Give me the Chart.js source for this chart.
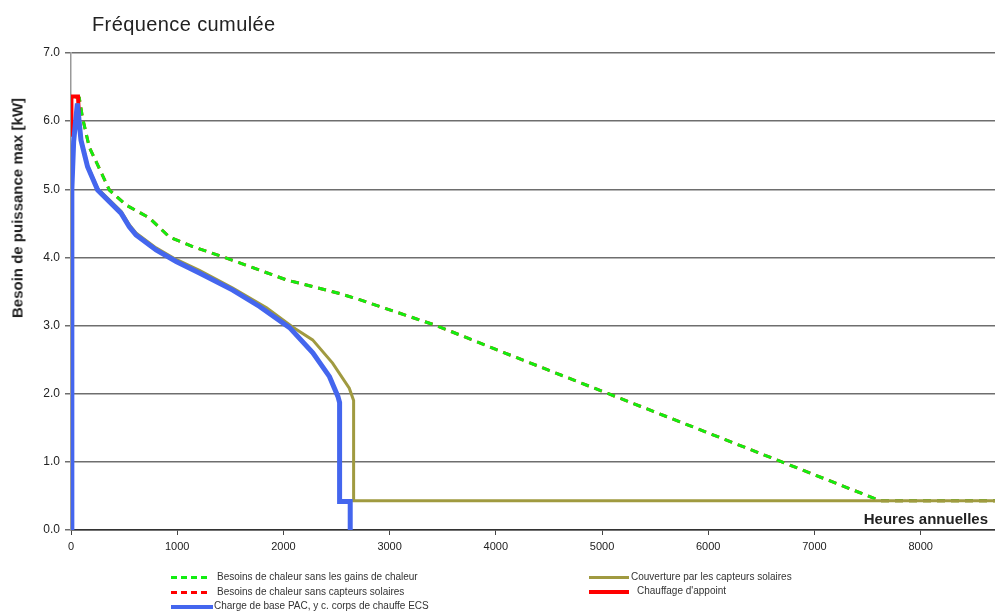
<!DOCTYPE html>
<html>
<head>
<meta charset="utf-8">
<script src="https://cdn.jsdelivr.net/npm/chart.js@4/dist/chart.umd.min.js"></script>
<style>
  body { margin: 0; background: #fff; font-family: "Liberation Sans", Arial, sans-serif; }
  #wrap { position: relative; width: 995px; height: 613px; }
  .txt { position: absolute; white-space: nowrap; color: #222; }
  #title { left: 92px; top: 13px; font-size: 20px; letter-spacing: 0.4px; }
  #ytitle { left: 17px; top: 208px; font-size: 15px; font-weight: bold; transform: translate(-50%, -50%) rotate(-90deg); }
  #xtitle { right: 7px; top: 510px; font-size: 15px; font-weight: bold; }
  .leg { position: absolute; font-size: 10px; color: #333; white-space: nowrap; }
  .sw { position: absolute; height: 0; }
</style>
</head>
<body>
<div id="wrap">
  <canvas id="chart"></canvas>
  <div class="txt" id="title">Fréquence cumulée</div>
  <div class="txt" id="ytitle">Besoin de puissance max [kW]</div>
  <div class="txt" id="xtitle">Heures annuelles</div>

  <div class="sw" style="left:171px;top:576px;width:36px;border-top:3px dashed #11ee11"></div>
  <div class="leg" style="left:217px;top:571px">Besoins de chaleur sans les gains de chaleur</div>
  <div class="sw" style="left:171px;top:591px;width:36px;border-top:3px dashed #ff0000"></div>
  <div class="leg" style="left:217px;top:586px">Besoins de chaleur sans capteurs solaires</div>
  <div class="sw" style="left:171px;top:605px;width:42px;border-top:4px solid #4466ee"></div>
  <div class="leg" style="left:214px;top:600px">Charge de base PAC, y c. corps de chauffe ECS</div>

  <div class="sw" style="left:589px;top:576px;width:40px;border-top:3px solid #a09a40"></div>
  <div class="leg" style="left:631px;top:571px">Couverture par les capteurs solaires</div>
  <div class="sw" style="left:589px;top:590px;width:40px;border-top:4px solid #ff0000"></div>
  <div class="leg" style="left:637px;top:585px">Chauffage d'appoint</div>
</div>
<script>
// x: heures annuelles, y: kW
const greenHours = [40, 78, 107, 172, 361, 518, 738, 926, 1146, 1446, 2029, 2529, 2717, 3440, 4000, 5060, 6692, 7618, 8700];
const greenKw    = [6.36, 6.34, 6.06, 5.62, 4.99, 4.77, 4.58, 4.30, 4.16, 4.00, 3.67, 3.47, 3.38, 3.00, 2.65, 2.00, 1.00, 0.43, 0.43];

// hidden under the green curve in the picture
const redDashHours = [40, 78, 107, 172, 361, 518, 738, 926, 1146, 1446, 2029, 2529, 2717, 3440, 4000, 5060, 6692, 7618, 8700];
const redDashKw    = [6.36, 6.34, 6.06, 5.62, 4.99, 4.77, 4.58, 4.30, 4.16, 4.00, 3.67, 3.47, 3.38, 3.00, 2.65, 2.00, 1.00, 0.43, 0.43];

const blueHours = [0, 8, 25, 60, 94, 156, 251, 471, 549, 612, 801, 990, 1209, 1523, 1775, 2058, 2277, 2434, 2513, 2529, 2529, 2629, 2629];
const blueKw    = [0, 5.0, 5.7, 6.26, 5.72, 5.33, 4.99, 4.65, 4.45, 4.33, 4.11, 3.94, 3.77, 3.52, 3.28, 2.97, 2.60, 2.25, 1.96, 1.87, 0.42, 0.42, 0];

const oliveHours = [0, 8, 25, 60, 94, 156, 251, 471, 549, 612, 801, 990, 1209, 1523, 1841, 2086, 2275, 2463, 2620, 2661, 2661, 8700];
const oliveKw    = [0, 5.0, 5.7, 6.26, 5.74, 5.35, 5.01, 4.68, 4.48, 4.36, 4.14, 3.97, 3.81, 3.55, 3.26, 2.98, 2.79, 2.45, 2.08, 1.90, 0.43, 0.43];

const redHours = [0, 4, 66, 76];
const redKw    = [5.8, 6.36, 6.36, 6.05];

const xTicks = [0, 1000, 2000, 3000, 4000, 5000, 6000, 7000, 8000];
const yTicks = [0, 1, 2, 3, 4, 5, 6, 7];

function pts(xs, ys) {
  return xs.map((x, i) => ({ x: x, y: ys[i] }));
}

const ctx = document.getElementById('chart').getContext('2d');
new Chart(ctx, {
  type: 'scatter',
  data: {
    datasets: [
      { label: 'Charge de base PAC, y c. corps de chauffe ECS', data: pts(blueHours, blueKw),
        borderColor: '#4466ee', borderWidth: 5 },
      { label: 'Couverture par les capteurs solaires', data: pts(oliveHours, oliveKw),
        borderColor: '#a09a40', borderWidth: 3 },
      { label: "Chauffage d'appoint", data: pts(redHours, redKw),
        borderColor: '#ff0000', borderWidth: 4 },
      { label: 'Besoins de chaleur sans les gains de chaleur', data: pts(greenHours, greenKw),
        borderColor: '#11ee11', borderWidth: 3, borderDash: [8, 6] },
      { label: 'Besoins de chaleur sans capteurs solaires', data: pts(redDashHours, redDashKw),
        borderColor: '#ff0000', borderWidth: 3, borderDash: [8, 6] }
    ].map(d => Object.assign(d, { showLine: true, pointRadius: 0, tension: 0, fill: false }))
  },
  options: {
    responsive: true,
    maintainAspectRatio: false,
    animation: false,
    layout: { padding: { top: 53, right: 0, left: 0, bottom: 0 } },
    plugins: { legend: { display: false }, tooltip: { enabled: false } },
    scales: {
      x: {
        type: 'linear', min: 0, max: 8700,
        afterFit: s => { s.height = 83; },
        afterBuildTicks: s => { s.ticks = xTicks.map(v => ({ value: v })); },
        ticks: { font: { family: 'Liberation Sans', size: 11 }, color: '#222', padding: 5, maxRotation: 0,
                 callback: v => String(v) },
        grid: { drawOnChartArea: false, tickLength: 5, color: '#444' },
        border: { color: '#333', width: 1.5 }
      },
      y: {
        min: 0, max: 7,
        afterFit: s => { s.width = 71; },
        afterBuildTicks: s => { s.ticks = yTicks.map(v => ({ value: v })); },
        ticks: { font: { family: 'Liberation Sans', size: 12 }, color: '#222', padding: 5,
                 callback: v => v.toFixed(1) },
        grid: { color: '#6e6e6e', lineWidth: 1.5, tickLength: 6 },
        border: { color: '#999', width: 1.5 }
      }
    }
  }
});
</script>
</body>
</html>
